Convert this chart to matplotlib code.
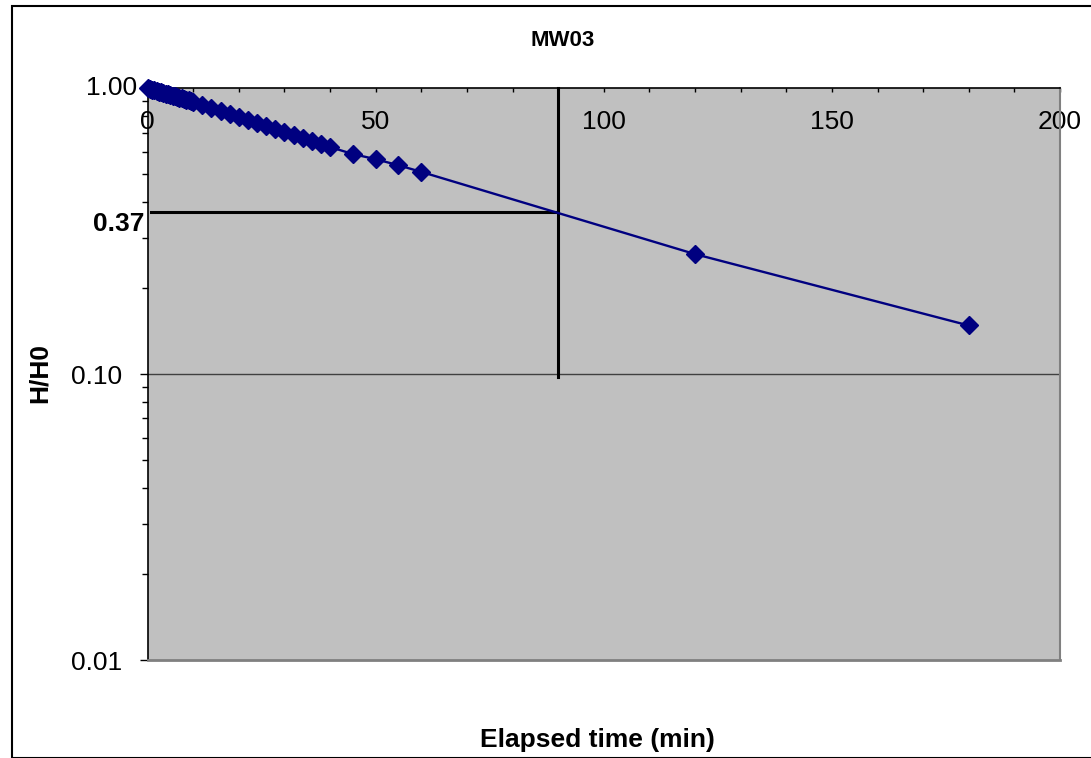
import matplotlib
matplotlib.use("Agg")
import matplotlib.pyplot as plt
from matplotlib.ticker import FixedLocator, LogLocator, NullFormatter, FixedFormatter
from matplotlib.patches import Rectangle

plt.rcParams['font.family'] = ['Liberation Sans', 'DejaVu Sans']

# Elapsed time (min) and normalised head H/H0
time_min = [0, 0.5, 1, 1.5, 2, 2.5, 3, 3.5, 4, 4.5, 5, 5.5, 6, 6.5, 7, 7.5, 8, 8.5,
            9, 9.5, 10, 12, 14, 16, 18, 20, 22, 24, 26, 28, 30, 32, 34, 36, 38, 40,
            45, 50, 55, 60, 120, 180]
h_ratio = [1.000, 0.995, 0.990, 0.984, 0.979, 0.974, 0.969, 0.964, 0.958, 0.953,
           0.948, 0.943, 0.938, 0.933, 0.928, 0.923, 0.918, 0.913, 0.908, 0.903,
           0.898, 0.876, 0.855, 0.835, 0.815, 0.795, 0.776, 0.757, 0.739, 0.721,
           0.704, 0.687, 0.671, 0.655, 0.639, 0.623, 0.589, 0.565, 0.538, 0.510,
           0.263, 0.148]

x_ticks = [0, 50, 100, 150, 200]
x_tick_labels = ['0', '50', '100', '150', '200']
y_ticks = [0.01, 0.10, 1.00]
y_tick_labels = ['0.01', '0.10', '']
top_label = '1.00'

t_lag = 90        # time at which H/H0 reaches 0.37
h_lag = 0.37

W, H = 1091, 758
fig = plt.figure(figsize=(W / 100, H / 100), dpi=100)

# Chart border
fig.patches.append(Rectangle((12 / W, 0), 1.2, 1 - 5.5 / H, transform=fig.transFigure,
                             fill=False, edgecolor='black', linewidth=1.5, zorder=0))

left, right, top, bottom = 147.5, 1060, 88.3, 660
ax = fig.add_axes([left / W, 1 - bottom / H, (right - left) / W, (bottom - top) / H])
ax.set_facecolor('#C0C0C0')
ax.set_yscale('log')
ax.set_xlim(0, 200)
ax.set_ylim(0.01, 1.0)

# Spines
ax.spines['left'].set_color('black')
ax.spines['left'].set_linewidth(1.2)
ax.spines['top'].set_color('black')
ax.spines['top'].set_linewidth(1.2)
ax.spines['right'].set_color('#808080')
ax.spines['right'].set_linewidth(1.5)
ax.spines['bottom'].set_color('#808080')
ax.spines['bottom'].set_linewidth(2)

# Horizontal gridline at 0.1
ax.axhline(0.1, color='#404040', linewidth=1.0, zorder=1)

# X axis along the top, labels sitting inside the plot
ax.xaxis.set_major_locator(FixedLocator(x_ticks))
ax.xaxis.set_major_formatter(FixedFormatter(x_tick_labels))
ax.xaxis.set_minor_locator(FixedLocator(list(range(0, 201, 10))))
ax.tick_params(axis='x', which='both', bottom=False, labelbottom=False, top=True,
               labeltop=True, direction='in', length=3, width=1, color='black',
               labelsize=19, pad=-33)
for lab in ax.get_xticklabels():
    lab.set_verticalalignment('bottom')

# Y axis
ax.yaxis.set_major_locator(FixedLocator(y_ticks))
ax.yaxis.set_major_formatter(FixedFormatter(y_tick_labels))
ax.yaxis.set_minor_locator(LogLocator(base=10, subs=range(2, 10)))
ax.yaxis.set_minor_formatter(NullFormatter())
ax.tick_params(axis='y', which='major', direction='out', length=6, width=1,
               labelsize=19, pad=12)
ax.tick_params(axis='y', which='minor', direction='out', length=4.5, width=1)
ax.text(-0.011, 1.0, top_label, transform=ax.get_yaxis_transform(), ha='right',
        va='center', fontsize=19)

# Data
ax.plot(time_min, h_ratio, color='#000080', linewidth=1.7, marker='D',
        markersize=9, markerfacecolor='#000080', markeredgecolor='#000080',
        zorder=4, clip_on=False)

# Basic time lag construction lines
ax.plot([t_lag, t_lag], [1.0, 0.098], color='black', linewidth=2.2, zorder=3,
        clip_on=False)
ax.plot([0.7, t_lag], [h_lag, h_lag], color='black', linewidth=2.2, zorder=3)
ax.text(-0.003, h_lag, '0.37', transform=ax.get_yaxis_transform(), ha='right',
        va='top', fontsize=19, fontweight='bold')

fig.text(563 / W, 1 - 40 / H, 'MW03', ha='center', va='center', fontsize=16,
         fontweight='bold')
fig.text(597 / W, 1 - 740 / H, 'Elapsed time (min)', ha='center', va='center',
         fontsize=19, fontweight='bold')
fig.text(40 / W, 1 - 373 / H, 'H/H0', ha='center', va='center', rotation=90,
         fontsize=19, fontweight='bold')

fig.savefig('out.png', dpi=100)
